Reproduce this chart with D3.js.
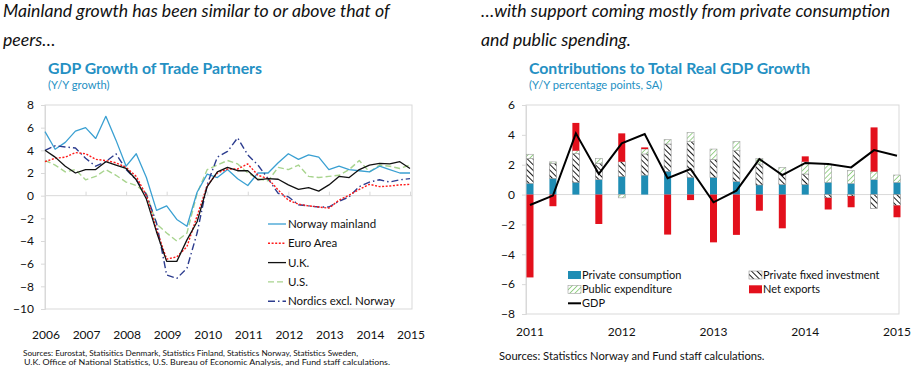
<!DOCTYPE html>
<html>
<head>
<meta charset="utf-8">
<script src="https://cdn.jsdelivr.net/npm/d3@7"></script>
<style>
  body { margin: 0; background: #fff; }
  svg { display: block; font-family: Lato, "Open Sans", sans-serif; }
</style>
</head>
<body>
<svg id="chart" width="918" height="366"></svg>
<script>
// ---- left panel: GDP growth of trade partners, quarterly y/y ----
const quarterLabels = [
  "2006Q1","2006Q2","2006Q3","2006Q4","2007Q1","2007Q2","2007Q3","2007Q4",
  "2008Q1","2008Q2","2008Q3","2008Q4","2009Q1","2009Q2","2009Q3","2009Q4",
  "2010Q1","2010Q2","2010Q3","2010Q4","2011Q1","2011Q2","2011Q3","2011Q4",
  "2012Q1","2012Q2","2012Q3","2012Q4","2013Q1","2013Q2","2013Q3","2013Q4",
  "2014Q1","2014Q2","2014Q3","2014Q4","2015Q1"
];
const norwayMainland = [5.65, 4.1, 4.7, 5.7, 6.0, 5.05, 7.0, 4.9, 2.6, 3.7, 1.6, -1.3, -0.9, -2.1, -2.7, 0.3,
  1.9, 1.6, 2.3, 1.5, 0.9, 2.0, 2.0, 2.9, 3.7, 3.2, 3.6, 3.4, 2.3, 2.6, 2.3, 2.2, 2.1, 2.6, 2.3, 2.0, 2.0];
const euroArea = [3.0, 3.3, 3.4, 3.8, 3.7, 3.2, 3.1, 2.9, 2.5, 1.7, 0.0, -3.0, -5.6, -5.4, -4.5, -1.8,
  0.9, 2.0, 2.35, 2.35, 2.8, 1.8, 1.5, 0.5, -0.4, -0.75, -0.9, -1.0, -1.1, -0.4, 0.05, 0.55, 1.0, 0.8, 0.85, 0.95, 1.0];
const unitedKingdom = [4.0, 3.4, 2.6, 2.0, 2.3, 2.3, 3.0, 2.7, 2.4, 1.4, -0.3, -3.2, -5.8, -5.8, -3.9, -2.3,
  0.8, 2.1, 2.5, 2.2, 2.2, 1.4, 1.5, 1.45, 0.95, 0.55, 0.7, 0.4, 0.95, 1.7, 1.6, 2.3, 2.7, 2.85, 2.8, 3.0, 2.4];
const unitedStates = [3.1, 2.7, 2.1, 2.3, 1.4, 1.7, 2.3, 1.8, 1.2, 0.9, 0.2, -2.5, -3.3, -4.0, -3.3, 0.2,
  2.3, 2.7, 3.1, 2.8, 2.0, 1.5, 1.3, 2.5, 2.3, 2.7, 1.7, 1.6, 1.7, 1.8, 2.3, 3.1, 2.1, 2.7, 2.6, 2.4, 2.7];
const nordicsExNorway = [4.0, 4.4, 4.3, 4.2, 3.3, 2.6, 3.0, 3.7, 2.3, 1.4, 0.1, -2.4, -7.0, -7.3, -6.4, -3.3,
  1.0, 3.4, 3.9, 5.1, 3.6, 2.7, 1.5, 0.2, -0.1, -0.8, -0.9, -1.0, -1.0, -0.5, -0.1, 0.8, 1.2, 1.4, 1.2, 1.4, 1.5];
const leftYears = [2006, 2007, 2008, 2009, 2010, 2011, 2012, 2013, 2014, 2015];
const leftYTicks = [8, 6, 4, 2, 0, -2, -4, -6, -8, -10];

// ---- right panel: contributions to real GDP growth ----
const contribQuarters = [
  "2011Q1","2011Q2","2011Q3","2011Q4","2012Q1","2012Q2","2012Q3","2012Q4",
  "2013Q1","2013Q2","2013Q3","2013Q4","2014Q1","2014Q2","2014Q3","2014Q4","2015Q1"
];
const privateConsumption = [0.75, 1.09, 0.82, 1.0, 1.22, 1.3, 1.56, 1.15, 1.15, 0.87, 0.64, 0.67, 0.67, 0.82, 0.75, 1.0, 0.82];
const privateFixedInvestment = [1.67, 1.0, 1.94, 1.1, 0.98, 1.42, 1.83, 2.4, 1.2, 2.07, 1.41, 0.71, 0.71, -0.22, -0.1, -0.92, -0.73];
const publicExpenditure = [0.28, 0.1, 0.18, 0.33, -0.22, 0.33, 0.29, 0.6, 0.7, 0.62, 0.38, 0.44, 0.82, 1.23, 0.85, 0.54, 0.49];
const netExports = [-5.55, -0.78, 1.86, -1.97, 1.9, 0.11, -2.68, -0.37, -3.2, -2.7, -1.08, -2.26, 0.36, -0.78, -0.75, 2.96, -0.79];
const gdpGrowth = [-0.7, -0.07, 4.1, 1.38, 3.43, 4.05, 1.09, 1.71, -0.52, 0.26, 2.38, 1.31, 2.12, 2.05, 1.82, 2.98, 2.6];
const rightYears = [2011, 2012, 2013, 2014, 2015];
const rightYTicks = [6, 4, 2, 0, -2, -4, -6, -8];

const qTime = (q) => +q.slice(0, 4) + (+q.slice(5) - 1) / 4;
const BLUE_TITLE = "#2490c3", GRID = "#d9d9d9";

let svg = d3.select("#chart");
let defs = svg.append("defs");

// hatch patterns
let pfiPat = defs.append("pattern")
  .attr("id", "hatch-pfi").attr("patternUnits", "userSpaceOnUse")
  .attr("width", 4).attr("height", 4).attr("patternTransform", "rotate(-45)");
pfiPat.append("rect").attr("width", 4).attr("height", 4).attr("fill", "#fff");
pfiPat.append("line").attr("x1", 0).attr("y1", 0).attr("x2", 0).attr("y2", 4)
  .attr("stroke", "#000").attr("stroke-width", 1.8);

let pePat = defs.append("pattern")
  .attr("id", "hatch-pe").attr("patternUnits", "userSpaceOnUse")
  .attr("width", 3.6).attr("height", 3.6).attr("patternTransform", "rotate(45)");
pePat.append("rect").attr("width", 3.6).attr("height", 3.6).attr("fill", "#fff");
pePat.append("line").attr("x1", 0).attr("y1", 0).attr("x2", 0).attr("y2", 3.6)
  .attr("stroke", "#7cc46a").attr("stroke-width", 1.5);

// headline texts
const headline = (x, y, t) => svg.append("text").attr("x", x).attr("y", y)
  .attr("font-size", 17.7).attr("font-style", "italic").attr("fill", "#111").text(t);
headline(3, 17, "Mainland growth has been similar to or above that of");
headline(3, 46, "peers…");
headline(481, 17, "…with support coming mostly from private consumption");
headline(481, 46, "and public spending.");

const chartTitle = (x, t, s) => {
  svg.append("text").attr("x", x).attr("y", 74).attr("font-size", 15.8)
    .attr("font-weight", "bold").attr("fill", BLUE_TITLE).text(t);
  svg.append("text").attr("x", x).attr("y", 89).attr("font-size", 11.2)
    .attr("fill", BLUE_TITLE).text(s);
};
chartTitle(48, "GDP Growth of Trade Partners", "(Y/Y growth)");
chartTitle(529, "Contributions to Total Real GDP Growth", "(Y/Y percentage points, SA)");

// ================= left chart =================
const L = { left: 45, right: 412, top: 105, bottom: 309 };
let xL = d3.scaleLinear().domain([2006, 2015]).range([45, 410]);
let yL = d3.scaleLinear().domain([-10, 8]).range([L.bottom, L.top]);

let gL = svg.append("g");
gL.append("rect").attr("x", L.left).attr("y", L.top)
  .attr("width", L.right - L.left).attr("height", L.bottom - L.top)
  .attr("fill", "none").attr("stroke", GRID);

let yAxisL = gL.append("g").attr("transform", "translate(" + L.left + ",0)")
  .call(d3.axisLeft(yL).tickValues(leftYTicks).tickSize(4).tickPadding(7).tickFormat(d3.format("d")));
yAxisL.select(".domain").attr("stroke", GRID);
yAxisL.selectAll(".tick line").attr("stroke", GRID);
yAxisL.selectAll("text").attr("font-size", 12).attr("fill", "#111").attr("font-family", "Lato");

// zero line with year ticks
let xAxisL = gL.append("g").attr("transform", "translate(0," + yL(0) + ")")
  .call(d3.axisTop(xL).tickValues(leftYears).tickSize(4).tickFormat(""));
xAxisL.select(".domain").attr("stroke", GRID).attr("d", "M" + L.left + ",0H" + L.right);
xAxisL.selectAll(".tick line").attr("stroke", GRID);

gL.selectAll(".year-label").data(leftYears).enter().append("text")
  .attr("class", "year-label")
  .attr("x", (d) => xL(d) + 1).attr("y", 339)
  .attr("text-anchor", "middle").attr("font-size", 12).attr("fill", "#111")
  .text((d) => d);

const leftSeries = [
  { name: "Norway mainland", values: norwayMainland, color: "#3aa0d2", dash: null, w: 1.3 },
  { name: "Euro Area", values: euroArea, color: "#ff1a1a", dash: "2,1.6", w: 1.4 },
  { name: "U.K.", values: unitedKingdom, color: "#111", dash: null, w: 1.3 },
  { name: "U.S.", values: unitedStates, color: "#a8d48e", dash: "6,3", w: 1.4 },
  { name: "Nordics excl. Norway", values: nordicsExNorway, color: "#2c3c8e", dash: "7,3,1.5,3", w: 1.4 }
];

let lineL = d3.line().x((d, i) => xL(qTime(quarterLabels[i]))).y((d) => yL(d));

// draw in an order so black sits near the top like the original
[3, 0, 4, 1, 2].forEach((k) => {
  let s = leftSeries[k];
  gL.append("path").datum(s.values)
    .attr("d", lineL).attr("fill", "none")
    .attr("stroke", s.color).attr("stroke-width", s.w)
    .attr("stroke-dasharray", s.dash)
    .attr("stroke-linejoin", "round");
});

let legL = gL.selectAll(".leg-l").data(leftSeries).enter().append("g")
  .attr("transform", (d, i) => "translate(268," + (224 + i * 19.3) + ")");
legL.append("line").attr("x1", 0).attr("x2", 18)
  .attr("stroke", (d) => d.color).attr("stroke-width", (d) => d.w)
  .attr("stroke-dasharray", (d) => d.dash);
legL.append("text").attr("x", 20).attr("y", 4).attr("font-size", 11.5)
  .attr("fill", "#111").text((d) => d.name);

svg.append("text").attr("x", 23).attr("y", 356).attr("font-size", 8.3).attr("fill", "#111")
  .attr("textLength", 335).attr("lengthAdjust", "spacingAndGlyphs")
  .text("Sources: Eurostat, Statisitics Denmark, Statistics Finland, Statistics Norway, Statistics Sweden,");
svg.append("text").attr("x", 24).attr("y", 365).attr("font-size", 8.3).attr("fill", "#111")
  .attr("textLength", 366).attr("lengthAdjust", "spacingAndGlyphs")
  .text("U.K. Office of National Statistics, U.S. Bureau of Economic Analysis, and Fund staff calculations.");

// ================= right chart =================
const R = { left: 526, right: 899, top: 105, bottom: 314 };
let xR = d3.scaleLinear().domain([2011, 2015]).range([530, 897]);
let yR = d3.scaleLinear().domain([-8, 6]).range([R.bottom, R.top]);

let gR = svg.append("g");
gR.append("rect").attr("x", R.left).attr("y", R.top)
  .attr("width", R.right - R.left).attr("height", R.bottom - R.top)
  .attr("fill", "none").attr("stroke", GRID);

let yAxisR = gR.append("g").attr("transform", "translate(" + R.left + ",0)")
  .call(d3.axisLeft(yR).tickValues(rightYTicks).tickSize(4).tickPadding(7).tickFormat(d3.format("d")));
yAxisR.select(".domain").attr("stroke", GRID);
yAxisR.selectAll(".tick line").attr("stroke", GRID);
yAxisR.selectAll("text").attr("font-size", 12).attr("fill", "#111").attr("font-family", "Lato");

gR.append("line").attr("x1", R.left).attr("x2", R.right)
  .attr("y1", yR(0)).attr("y2", yR(0)).attr("stroke", GRID);

gR.selectAll(".year-label").data(rightYears).enter().append("text")
  .attr("class", "year-label")
  .attr("x", (d) => xR(d)).attr("y", 336)
  .attr("text-anchor", "middle").attr("font-size", 12).attr("fill", "#111")
  .text((d) => d);

const keys = ["pc", "pfi", "pe", "nx"];
const fills = { pc: "#1f8db4", pfi: "url(#hatch-pfi)", pe: "url(#hatch-pe)", nx: "#e3101c" };
const strokes = { pc: "none", pfi: "#8c8c8c", pe: "#a0a0a0", nx: "none" };

let rows = contribQuarters.map((q, i) => ({
  t: qTime(q),
  pc: privateConsumption[i], pfi: privateFixedInvestment[i],
  pe: publicExpenditure[i], nx: netExports[i]
}));
let stacked = d3.stack().keys(keys).offset(d3.stackOffsetDiverging)(rows);
const BAR_W = 7;

stacked.forEach((layer) => {
  gR.append("g").selectAll("rect").data(layer).enter().append("rect")
    .attr("x", (d) => xR(d.data.t) - BAR_W / 2)
    .attr("width", BAR_W)
    .attr("y", (d) => yR(Math.max(d[0], d[1])))
    .attr("height", (d) => Math.abs(yR(d[0]) - yR(d[1])))
    .attr("fill", fills[layer.key])
    .attr("stroke", strokes[layer.key])
    .attr("stroke-width", 0.6);
});

gR.append("path").datum(gdpGrowth)
  .attr("d", d3.line().x((d, i) => xR(qTime(contribQuarters[i]))).y((d) => yR(d)))
  .attr("fill", "none").attr("stroke", "#000").attr("stroke-width", 2)
  .attr("stroke-linejoin", "miter");

const legendItems = [
  { label: "Private consumption", key: "pc", x: 568, y: 275 },
  { label: "Public expenditure", key: "pe", x: 568, y: 289.3 },
  { label: "GDP", key: "gdp", x: 568, y: 303.3 },
  { label: "Private fixed investment", key: "pfi", x: 749, y: 275 },
  { label: "Net exports", key: "nx", x: 749, y: 289.3 }
];
let legR = gR.selectAll(".leg-r").data(legendItems).enter().append("g")
  .attr("transform", (d) => "translate(" + d.x + "," + d.y + ")");
legR.filter((d) => d.key !== "gdp").append("rect")
  .attr("x", 0).attr("y", -4).attr("width", 13).attr("height", 8)
  .attr("fill", (d) => fills[d.key]).attr("stroke", (d) => strokes[d.key]).attr("stroke-width", 0.6);
legR.filter((d) => d.key === "gdp").append("line")
  .attr("x1", 0).attr("x2", 13).attr("stroke", "#000").attr("stroke-width", 2);
legR.append("text").attr("x", 14).attr("y", 4).attr("font-size", 11)
  .attr("fill", "#111").text((d) => d.label);

svg.append("text").attr("x", 499).attr("y", 360).attr("font-size", 11.2).attr("fill", "#111")
  .text("Sources: Statistics Norway and Fund staff calculations.");
</script>
</body>
</html>
